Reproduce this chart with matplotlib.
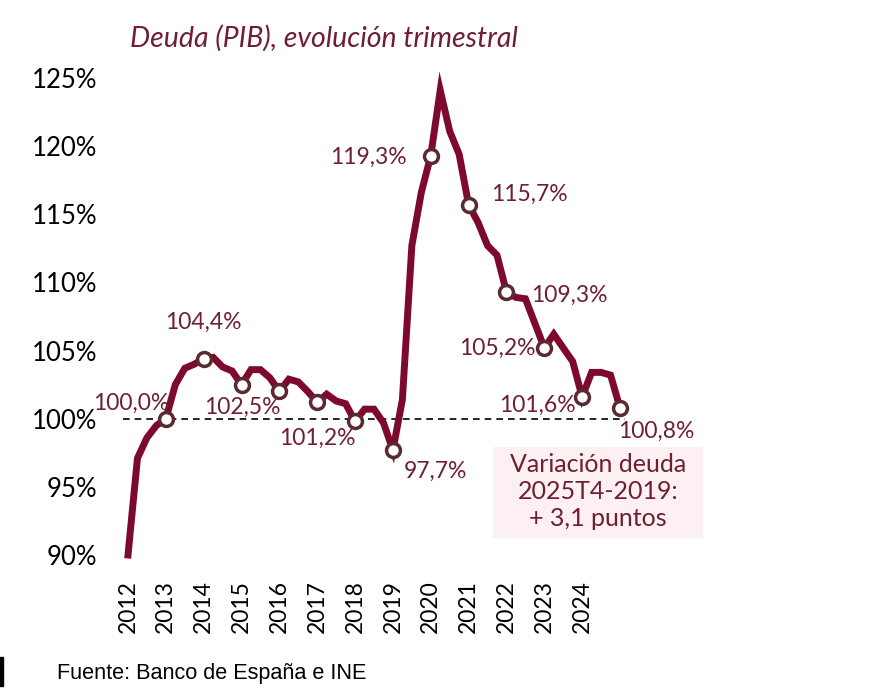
import matplotlib
matplotlib.use("Agg")
import matplotlib.pyplot as plt
from matplotlib.patches import Rectangle

# quarterly debt / GDP index, 2012T4 .. 2025T4
deuda = [90.0, 97.1, 98.6, 99.5, 100.0,
         102.5, 103.7, 104.0, 104.4,
         104.5, 103.8, 103.5, 102.5,
         103.6, 103.6, 103.0, 102.0,
         102.9, 102.7, 102.0, 101.2,
         101.8, 101.3, 101.1, 99.8,
         100.7, 100.7, 99.7, 97.7,
         101.4, 112.7, 116.6, 119.3,
         124.1, 121.1, 119.4, 115.7,
         114.4, 112.7, 112.0, 109.3,
         108.9, 108.8, 107.0, 105.2,
         106.2, 105.2, 104.2, 101.6,
         103.4, 103.4, 103.2, 100.8]

years = ["2012", "2013", "2014", "2015", "2016", "2017", "2018",
         "2019", "2020", "2021", "2022", "2023", "2024"]

# labelled Q4 points: index, text, offset in pixels (dx, dy)
labels = [(4, "100,0%", (-35, 15)),
          (8, "104,4%", (0, 36)),
          (12, "102,5%", (1, -23)),
          (20, "101,2%", (0, -36)),
          (28, "97,7%", (43, -21)),
          (32, "119,3%", (-62, -2)),
          (36, "115,7%", (61, 10)),
          (40, "109,3%", (63, -3)),
          (44, "105,2%", (-47, 0)),
          (48, "101,6%", (-45, -8)),
          (52, "100,8%", (36, -24))]

LINE = "#7d0a2e"
TXT = "#6e1f33"
EDGE = "#5a2a2e"

plt.rcParams['font.family'] = ['Lato', 'DejaVu Sans']

fig = plt.figure(figsize=(8.82, 6.97), dpi=100)
W, H = 882, 697
ax = fig.add_axes([128 / W, (H - 555) / H, 492 / W, (555 - 78) / H])

x = list(range(len(deuda)))
ax.axhline(100, xmin=-0.01, xmax=1.01, color="black", lw=1.2, ls=(0, (4, 3)), clip_on=False, zorder=1)
ax.plot(x, deuda, color=LINE, lw=5, solid_joinstyle="miter", clip_on=False, zorder=2)

q4 = x[4::4]
ax.plot(q4, [deuda[i] for i in q4], ls="none", marker="o", ms=10, mfc="white",
        mec=EDGE, mew=2.5, clip_on=False, zorder=3)

for i, txt, (dx, dy) in labels:
    ax.annotate(txt, (i, deuda[i]), xytext=(dx, dy), textcoords="offset pixels",
                ha="center", va="center", fontsize=16.5, color=TXT, zorder=4)

ax.set_xlim(0, 52)
ax.set_ylim(90, 125)
ax.set_yticks([90, 95, 100, 105, 110, 115, 120, 125])
ax.set_yticklabels([f"{v}%" for v in [90, 95, 100, 105, 110, 115, 120, 125]], fontsize=18.5)
ax.set_xticks(x[0:49:4])
ax.set_xticklabels(years, rotation=90, fontsize=16.5)
ax.tick_params(length=0)
ax.tick_params(axis="y", pad=22)
ax.tick_params(axis="x", pad=18)
for s in ax.spines.values():
    s.set_visible(False)

# note box
ax.add_patch(Rectangle((38.6, 91.27), 22.2, 6.68, fc="#fcf0f2", ec="none",
                       clip_on=False, zorder=1))
ax.text(49.7, 94.64, "Variación deuda\n2025T4-2019:\n+ 3,1 puntos", ha="center", va="center",
        fontsize=18, color=TXT, linespacing=1.2, clip_on=False, zorder=4)

fig.text(130 / W, (H - 38) / H, "Deuda (PIB), evolución trimestral", fontsize=20.5,
         style="italic", color=TXT, va="center", ha="left")
fig.text(57 / W, (H - 673) / H, "Fuente: Banco de España e INE", fontsize=15.6,
         family="Liberation Sans", va="center", ha="left")
fig.patches.append(Rectangle((0, (H - 686) / H), 3 / W, 29 / H, transform=fig.transFigure,
                             color="black", figure=fig))

fig.savefig("out.png", dpi=100)
